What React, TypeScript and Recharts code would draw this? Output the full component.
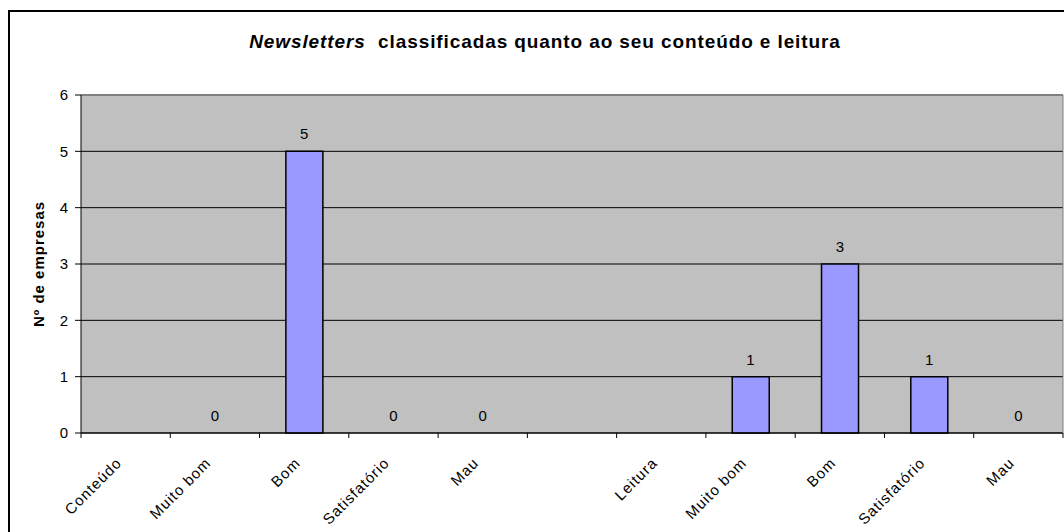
import React from "react";
import {
  ComposedChart,
  Bar,
  Line,
  XAxis,
  YAxis,
  CartesianGrid,
  LabelList,
  ReferenceLine,
} from "recharts";

const categories = [
  "Conteúdo",
  "Muito bom",
  "Bom",
  "Satisfatório",
  "Mau",
  "",
  "Leitura",
  "Muito bom",
  "Bom",
  "Satisfatório",
  "Mau",
];
const empresas: (number | null)[] = [null, 0, 5, 0, 0, null, null, 1, 3, 1, 0];
const yTicks = [0, 1, 2, 3, 4, 5, 6];

const W = 1064;
const H = 532;
const LEFT = 81;
const RIGHT_W = 1;
const BAND = (W - LEFT - RIGHT_W) / categories.length;
const FONT = "'Liberation Sans', Arial, sans-serif";

const data = categories.map((c, i) => ({ idx: i, name: c, value: empresas[i] }));

function XTick(props: any) {
  const { x, y, payload, index } = props;
  const label = categories[payload.value] ?? "";
  const last = index === categories.length - 1;
  return (
    <g>
      <line x1={x - BAND / 2} x2={x - BAND / 2} y1={y - 8} y2={y - 3} stroke="#000" />
      {last && <line x1={x + BAND / 2} x2={x + BAND / 2} y1={y - 8} y2={y - 3} stroke="#000" />}
      <text
        x={0}
        y={0}
        transform={`translate(${x - 3},${y + 23}) rotate(-45)`}
        textAnchor="end"
        fontSize={15}
        letterSpacing={1}
        fontFamily={FONT}
        fill="#000"
      >
        {label}
      </text>
    </g>
  );
}

function ValueLabel(props: any) {
  const { x, y, value } = props;
  if (value === null || value === undefined || y == null) return null;
  return (
    <text x={x} y={y - 12} textAnchor="middle" fontSize={15} fontFamily={FONT} fill="#000">
      {value}
    </text>
  );
}

function YLabel() {
  return (
    <text
      x={0}
      y={0}
      transform="translate(44,264) rotate(-90)"
      textAnchor="middle"
      fontSize={15}
      fontWeight="bold"
      letterSpacing={1}
      fontFamily={FONT}
      fill="#000"
    >
      Nº de empresas
    </text>
  );
}

export default function App() {
  return (
    <div style={{ position: "absolute", left: 0, top: 0, width: W, height: H, background: "#fff", overflow: "hidden" }}>
      <style>{"body{margin:0}"}</style>
      <div
        style={{
          position: "absolute",
          left: 8,
          top: 10,
          width: W,
          height: H,
          borderLeft: "2px solid #000",
          borderTop: "2px solid #000",
          boxSizing: "border-box",
        }}
      />
      <div
        style={{
          position: "absolute",
          left: 0,
          top: 31,
          width: W + 26,
          textAlign: "center",
          fontFamily: FONT,
          fontWeight: "bold",
          fontSize: 19,
          letterSpacing: 0.9,
          color: "#000",
          whiteSpace: "pre",
        }}
      >
        <i>Newsletters</i>{"  classificadas quanto ao seu conteúdo e leitura"}
      </div>
      <div style={{ position: "absolute", left: 0, top: 0 }}>
        <ComposedChart
          width={W}
          height={H}
          data={data}
          margin={{ top: 95, right: 0, left: 0, bottom: 0 }}
          barCategoryGap="29.5%"
        >
          <CartesianGrid vertical={false} stroke="#000" fill="#C0C0C0" fillOpacity={1} />
          <XAxis
            dataKey="idx"
            type="category"
            height={99}
            interval={0}
            tickLine={false}
            axisLine={{ stroke: "#000" }}
            tick={<XTick />}
          />
          <YAxis
            width={LEFT}
            domain={[0, 6]}
            ticks={yTicks}
            interval={0}
            tickSize={6}
            tickMargin={7}
            tickLine={{ stroke: "#000" }}
            axisLine={{ stroke: "#000" }}
            tick={{ fontSize: 15, fontFamily: FONT, fill: "#000" }}
            label={<YLabel />}
          />
          <YAxis
            yAxisId="right"
            orientation="right"
            width={RIGHT_W}
            domain={[0, 6]}
            tick={false}
            tickLine={false}
            axisLine={{ stroke: "#808080" }}
          />
          <ReferenceLine y={6} stroke="#808080" strokeWidth={2} />
          <Bar
            dataKey="value"
            fill="#9999FF"
            stroke="#000"
            strokeWidth={1.5}
            isAnimationActive={false}
          />
          <Line
            dataKey="value"
            stroke="none"
            dot={false}
            activeDot={false}
            legendType="none"
            isAnimationActive={false}
          >
            <LabelList dataKey="value" content={<ValueLabel />} />
          </Line>
        </ComposedChart>
      </div>
    </div>
  );
}
